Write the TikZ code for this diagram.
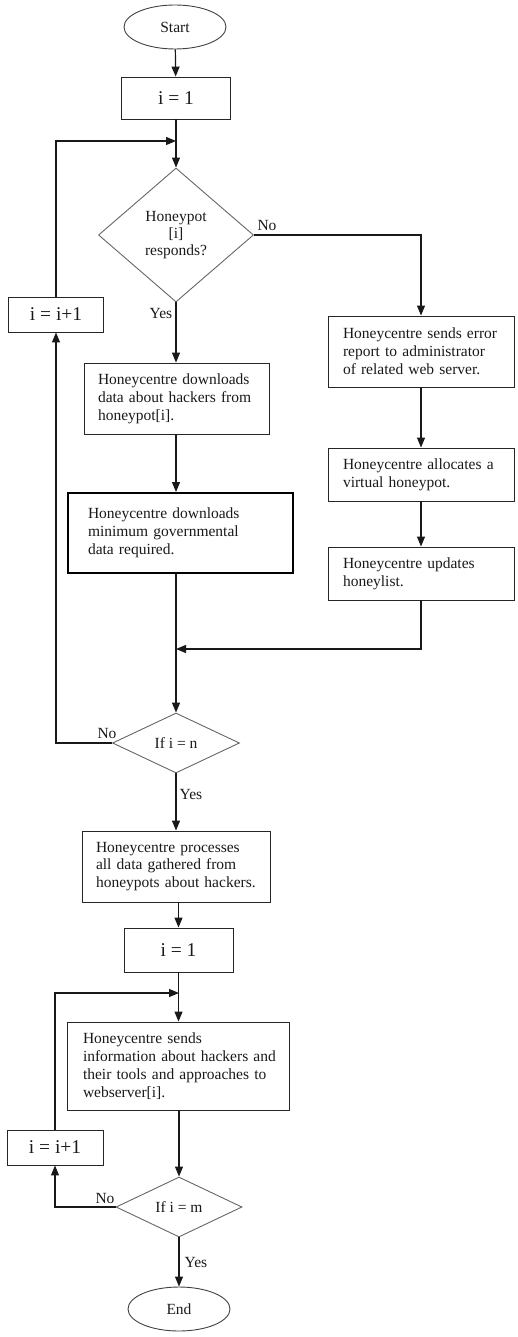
\documentclass[tikz,border=0pt]{standalone}
\usepackage{fontspec}
\setmainfont{Liberation Serif}
\usetikzlibrary{shapes.geometric,arrows.meta,calc}
\begin{document}
\begin{tikzpicture}[x=1pt,y=-1pt,
  every node/.style={font=\fontsize{15.5}{17.8}\selectfont, text=black!90},
  term/.style={ellipse, draw=black!75, line width=0.9pt, minimum width=102pt, minimum height=44pt, inner sep=0pt},
  small/.style={rectangle, draw=black!85, line width=0.9pt, inner sep=0pt, font=\fontsize{19.5}{22}\selectfont},
  proc/.style={rectangle, draw=black!85, line width=0.9pt, align=left, inner ysep=0pt},
  dec/.style={diamond, draw=black!60, line width=0.9pt, inner sep=0pt, align=center},
  arr/.style={draw=black!90, line width=1.2pt, -{Triangle[length=10pt,width=8pt]}},
  lab/.style={inner sep=0pt}
]
\useasboundingbox (0,0) rectangle (517,1337);

% nodes
\node[term] (start) at (175,27) {Start};
\node[small, minimum width=109pt, minimum height=42pt] (init1) at (176,98) {i = 1};
\node[dec, minimum width=155pt, minimum height=134pt] (dec1) at (176,235) {Honeypot\\[-1pt] [i]\\[-1pt] responds?};
\node[small, minimum width=95pt, minimum height=35pt] (inc1) at (56,314.5) {i = i+1};
\node[proc, inner xsep=14pt, text width=157pt, minimum height=71pt] (dl1) at (176.5,398.5)
  {\mbox{Honeycentre downloads}\\ \mbox{data about hackers from}\\ honeypot[i].};
\node[proc, draw=black, line width=2pt, inner xsep=20pt, text width=185pt, minimum height=80pt] (gov) at (180.5,533)
  {\mbox{Honeycentre downloads}\\ \mbox{minimum governmental}\\ data required.};
\node[proc, inner xsep=15pt, text width=156pt, minimum height=71pt] (err) at (421,351.5)
  {\mbox{Honeycentre sends error}\\ \mbox{report to administrator}\\ \mbox{of related web server.}};
\node[proc, inner xsep=15pt, text width=156pt, minimum height=53pt] (alloc) at (421,474.5)
  {\mbox{Honeycentre allocates a}\\ virtual honeypot.};
\node[proc, inner xsep=15pt, text width=156pt, minimum height=53pt] (upd) at (421,573.5)
  {Honeycentre updates\\ honeylist.};
\node[dec, minimum width=127pt, minimum height=60pt] (dec2) at (176,743) {If i = n};
\node[proc, inner xsep=14pt, text width=160pt, minimum height=71pt] (proc) at (176,866.5)
  {\mbox{Honeycentre processes}\\ \mbox{all data gathered from}\\ \mbox{honeypots about hackers.}};
\node[small, minimum width=109pt, minimum height=44pt] (init2) at (178.5,950) {i = 1};
\node[proc, inner xsep=16pt, text width=190pt, minimum height=88pt] (send) at (178,1066)
  {Honeycentre sends\\ \mbox{information about hackers and}\\ \mbox{their tools and approaches to}\\ webserver[i].};
\node[small, minimum width=96pt, minimum height=35pt] (inc2) at (55,1147.5) {i = i+1};
\node[dec, minimum width=126pt, minimum height=60pt] (dec3) at (179,1207) {If i = m};
\node[term] (end) at (179,1309) {End};

% labels
\node[lab] (no1) at (267,226) {No};
\node[lab] (yes1) at (161,314) {Yes};
\node[lab] (no2) at (107,733) {No};
\node[lab] (yes2) at (191,794) {Yes};
\node[lab] (no3) at (105,1198) {No};
\node[lab] (yes3) at (196,1262) {Yes};

% junction coordinates
\coordinate (j1) at (176,141);
\coordinate (j2) at (176,649);
\coordinate (j3) at (179,993);

% connectors
\draw[arr] (start) -- (init1);
\draw[arr] (init1) -- (dec1);
\draw[arr] (inc1.north) |- (j1);
\draw[arr] (dec1.east) -| (err.north);
\draw[arr] (dec1.south) -- (dec1.south |- dl1.north);
\draw[arr] (dec1.south |- dl1.south) -- (dec1.south |- gov.north);
\draw[arr] (err) -- (alloc);
\draw[arr] (alloc) -- (upd);
\draw[arr] (upd.south) |- (j2);
\draw[arr] (dec2.north |- gov.south) -- (dec2.north);
\draw[arr] (dec2.west) -| (inc1.south);
\draw[arr] (dec2.south) -- (dec2.south |- proc.north);
\draw[arr] (init2.north |- proc.south) -- (init2.north);
\draw[arr] (init2.south) -- (init2.south |- send.north);
\draw[arr] (inc2.north) |- (j3);
\draw[arr] (send.south -| dec3.north) -- (dec3.north);
\draw[arr] (dec3.west) -| (inc2.south);
\draw[arr] (dec3.south) -- (end.north);
\end{tikzpicture}
\end{document}
